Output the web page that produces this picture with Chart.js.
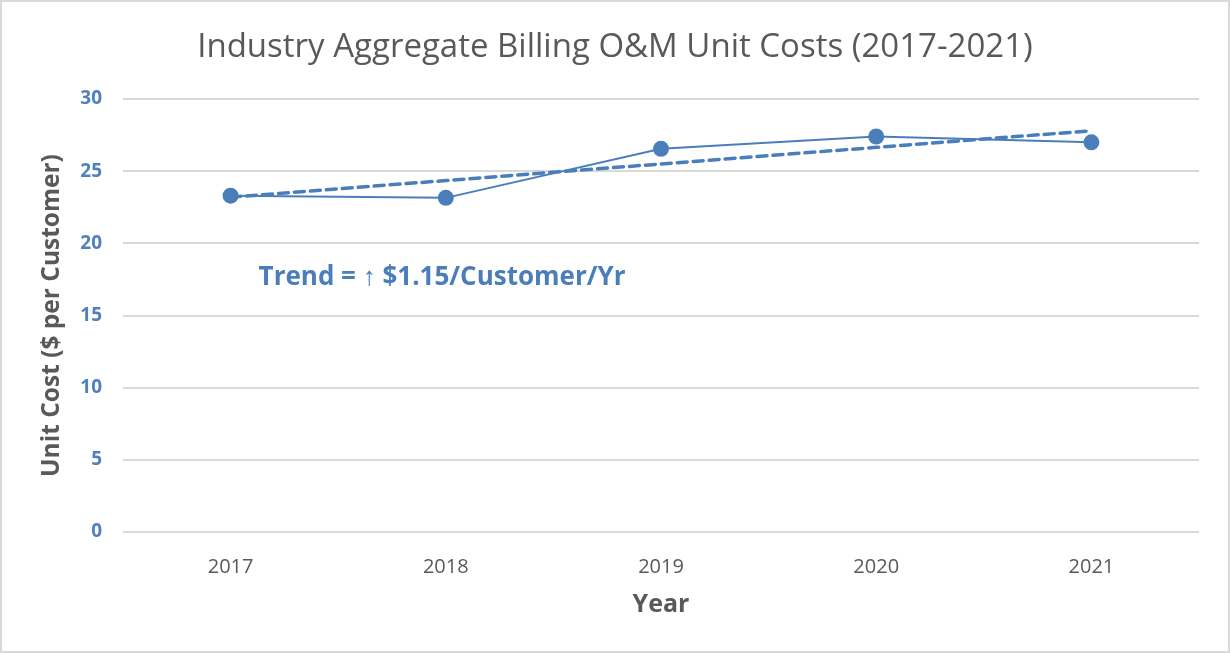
<!DOCTYPE html>
<html>
<head>
<meta charset="utf-8">
<script src="https://cdn.jsdelivr.net/npm/chart.js@4.4.1/dist/chart.umd.min.js"></script>
<style>
  html, body { margin: 0; padding: 0; background: #fff; }
  #wrap { width: 1230px; height: 653px; box-sizing: border-box; border: 2px solid #d9d9d9; }
</style>
</head>
<body>
<div id="wrap"><canvas id="lineChart" width="1226" height="649"></canvas></div>
<script>
const years = ["2017", "2018", "2019", "2020", "2021"];
const unitCost = [23.3, 23.15, 26.55, 27.4, 27.0];
const trendCost = [23.2, 24.35, 25.5, 26.65, 27.8];
const yTicks = [0, 5, 10, 15, 20, 25, 30];
const chartTitle = "Industry Aggregate Billing O&M Unit Costs (2017-2021)";
const trendLabel = "Trend = \u2191 $1.15/Customer/Yr";

const FONT = "'Open Sans', sans-serif";
const BLUE = "#4a7ebb";
const GREY = "#595959";

// title centred on the whole canvas, and the trend note inside the plot
const textBits = {
    id: "textBits",
    afterDatasetsDraw(chart) {
        const { ctx, scales } = chart;
        ctx.save();
        ctx.font = "33px " + FONT;
        ctx.fillStyle = GREY;
        ctx.textAlign = "center";
        ctx.textBaseline = "middle";
        ctx.fillText(chartTitle, chart.width / 2, 46);

        const x = scales.x.getPixelForValue(0.13);
        const y = scales.y.getPixelForValue(17.6);
        ctx.font = "bold 26px " + FONT;
        ctx.fillStyle = BLUE;
        ctx.textAlign = "left";
        ctx.fillText(trendLabel, x, y);
        ctx.restore();
    }
};

new Chart(document.getElementById("lineChart"), {
    type: "line",
    data: {
        labels: years,
        datasets: [{
            label: "Unit Cost",
            data: unitCost,
            borderColor: BLUE,
            backgroundColor: BLUE,
            borderWidth: 2,
            pointRadius: 8,
            pointBorderWidth: 0,
            tension: 0
        }, {
            label: "Trend",
            data: trendCost,
            borderColor: BLUE,
            borderWidth: 3.5,
            borderDash: [10, 6],
            borderCapStyle: "round",
            pointRadius: 0,
            tension: 0
        }]
    },
    options: {
        responsive: false,
        animation: false,
        layout: { padding: { left: 0, right: 29, top: 97, bottom: 31 } },
        plugins: {
            legend: { display: false },
            tooltip: { enabled: false },
            title: { display: false }
        },
        scales: {
            x: {
                offset: true,
                grid: { display: false },
                border: { display: false },
                ticks: { color: GREY, font: { family: FONT, size: 20 }, padding: 15 },
                title: {
                    display: true,
                    text: "Year",
                    color: GREY,
                    font: { family: FONT, size: 25, weight: "bold" },
                    padding: { top: 8, bottom: 0 }
                },
                afterFit(s) { s.height = 88; }
            },
            y: {
                min: 0,
                max: 30,
                afterBuildTicks(s) { s.ticks = yTicks.map(v => ({ value: v })); },
                grid: { color: "#d9d9d9", lineWidth: 2, drawTicks: false },
                border: { display: false },
                ticks: { color: "#4f81bd", font: { family: FONT, size: 19, weight: "bold" }, padding: 21 },
                title: {
                    display: true,
                    text: "Unit Cost ($ per Customer)",
                    color: GREY,
                    font: { family: FONT, size: 24.5, weight: "bold" },
                    padding: { top: 35, bottom: 0 }
                },
                afterFit(s) { s.width = 121; }
            }
        }
    },
    plugins: [textBits]
});
</script>
</body>
</html>
